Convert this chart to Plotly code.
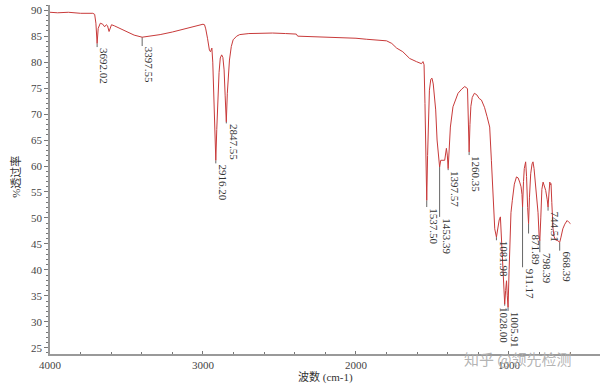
import plotly.graph_objects as go

# ---- spectrum data (wavenumber cm-1, transmittance %) ----
wavenumber = [
    4000, 3950, 3880, 3800, 3720, 3708, 3700, 3692.02, 3685, 3671, 3655, 3643, 3632, 3624,
    3614, 3605, 3598, 3580, 3540, 3500, 3450, 3397.55, 3340, 3280, 3200, 3120, 3060, 3000,
    2990, 2982, 2970, 2958, 2951, 2942, 2936, 2930, 2922, 2916.20, 2910, 2903, 2895, 2887,
    2878, 2870, 2862, 2855, 2847.55, 2841, 2835, 2827, 2815, 2803, 2780, 2760, 2700, 2600,
    2545, 2460, 2390, 2381, 2300, 2200, 2106, 2000, 1930, 1850, 1800, 1766, 1734, 1694,
    1670, 1649, 1605, 1585, 1572, 1562, 1555, 1549, 1544, 1537.50, 1532, 1527, 1520, 1511,
    1503, 1495, 1487, 1479, 1470, 1461, 1453.39, 1446, 1435, 1420, 1409, 1403, 1397.57,
    1390, 1383, 1366, 1333, 1309, 1289, 1271, 1266, 1260.35, 1255, 1249, 1240, 1226, 1210,
    1195, 1180, 1160, 1143, 1126, 1115, 1105, 1093, 1081.98, 1072, 1064, 1056, 1048, 1040,
    1034, 1028.00, 1022, 1016, 1011, 1005.91, 999, 994, 987, 978, 965, 951, 940, 930, 921,
    915, 911.17, 905, 900, 891, 885, 878, 871.89, 866, 858, 849, 843, 836, 828, 821, 810,
    803, 798.39, 792, 785, 777, 770, 760, 750, 744.51, 738, 733, 729, 725, 720, 716, 712,
    706, 697, 680, 668.39, 660, 648, 635, 620, 610, 598,
]
transmittance = [
    89.6, 89.5, 89.6, 89.4, 89.4, 89.2, 87.5, 83.6, 86.5, 87.5, 87.3, 86.8, 87.2, 87.0,
    85.9, 86.6, 87.2, 87.0, 86.4, 85.8, 85.2, 84.8, 85.0, 85.3, 85.8, 86.4, 86.9, 87.3,
    87.2, 86.4, 84.5, 82.3, 82.0, 82.7, 80.0, 74.0, 66.0, 61.1, 67.0, 73.0, 78.0, 80.8,
    81.4, 80.9, 78.5, 73.5, 68.5, 74.0, 78.0, 80.4, 83.0, 84.3, 85.0, 85.3, 85.5, 85.6,
    85.6, 85.5, 85.4, 85.0, 84.9, 84.9, 84.8, 84.6, 84.4, 84.2, 84.1, 83.6, 82.7, 82.0,
    81.4, 80.7, 80.1, 79.8, 79.7, 80.1, 79.5, 72.0, 62.0, 53.4, 62.0, 70.0, 74.6, 76.7,
    76.9, 75.8, 73.0, 70.8, 65.0, 61.1, 59.8, 61.1, 61.1, 61.1, 63.4, 62.1, 59.5,
    64.0, 67.5, 71.4, 74.0, 74.8, 75.3, 74.9, 70.0, 62.7, 68.0, 71.5, 73.2, 74.0, 73.7,
    73.0, 72.7, 71.3, 69.5, 67.5, 61.1, 54.0, 47.9, 46.3, 48.5, 49.6, 50.2, 46.0, 40.0,
    36.5, 33.4, 36.0, 37.9, 35.0, 32.8, 40.0, 47.0, 51.0, 53.4, 56.5, 57.9, 57.7, 56.9, 56.0,
    54.5, 52.1, 57.0, 59.5, 60.8, 58.0, 52.0, 48.9, 54.0, 58.5, 60.4, 60.8, 59.5, 57.0, 55.3, 51.0,
    46.5, 45.6, 50.0, 55.5, 56.9, 56.2, 55.3, 53.5, 52.1, 55.0, 56.9, 56.4, 56.6, 53.0, 50.0, 48.0,
    46.5, 45.8, 45.6, 45.3, 46.3, 47.9, 48.8, 49.5, 49.2, 48.9,
]

# ---- peak annotations ----
peak_wn = [3692.02, 3397.55, 2916.20, 2847.55, 1537.50, 1453.39, 1397.57, 1260.35,
           1081.98, 1028.00, 1005.91, 911.17, 871.89, 798.39, 744.51, 668.39]
peak_t = [83.6, 84.8, 61.1, 68.5, 53.4, 59.8, 59.5, 62.7,
          46.3, 33.4, 32.8, 52.1, 48.9, 45.6, 52.1, 45.3]
peak_labels = ["3692.02", "3397.55", "2916.20", "2847.55", "1537.50", "1453.39", "1397.57",
               "1260.35", "1081.98", "1028.00", "1005.91", "911.17", "871.89", "798.39",
               "744.51", "668.39"]

x_ticks = [4000, 3000, 2000, 1000]
y_ticks = [25, 30, 35, 40, 45, 50, 55, 60, 65, 70, 75, 80, 85, 90]

# layout-only: where each label's text starts (transmittance units) and pixel nudges
label_top = [82.9, 83.1, 60.5, 68.2, 52.1, 50.2, 59.2, 62.1,
             45.7, 33.1, 32.1, 40.5, 47.0, 43.4, 51.4, 43.7]
label_dx = [0, 0, 0, 0, 0, 0, 0, 0, 0, -7, 0, 0, 0, 0, 0, 0]

SERIF = "Liberation Serif, Noto Sans CJK SC, serif"

fig = go.Figure()

# leader lines
lx, ly = [], []
for w, t0, t1 in zip(peak_wn, peak_t, label_top):
    lx += [w, w, None]
    ly += [t0, t1, None]
fig.add_trace(go.Scatter(x=lx, y=ly, mode="lines",
                         line=dict(color="#666666", width=1), hoverinfo="skip"))

fig.add_trace(go.Scatter(x=wavenumber, y=transmittance, mode="lines",
                         line=dict(color="#c83a3a", width=1)))

for w, t1, lab, dx in zip(peak_wn, label_top, peak_labels, label_dx):
    fig.add_annotation(x=w, y=t1, xref="x", yref="y", text=lab, showarrow=False,
                       textangle=90, xanchor="left", yanchor="top", borderpad=0, xshift=dx,
                       font=dict(family=SERIF, size=11, color="#333333"))

# axis titles
fig.add_annotation(x=0.5, y=-0.066, xref="paper", yref="paper", text="波数 (cm-1)",
                   showarrow=False, xanchor="center", yanchor="middle",
                   font=dict(family=SERIF, size=11, color="#333333"))
fig.add_annotation(x=-0.064, y=0.507, xref="paper", yref="paper", text="%透过率",
                   showarrow=False, textangle=-90, xanchor="center", yanchor="middle",
                   font=dict(family=SERIF, size=11, color="#333333"))
# watermark
fig.add_annotation(x=0.851, y=-0.014, xref="paper", yref="paper", text="知乎 @领先检测",
                   showarrow=False, xanchor="center", yanchor="middle",
                   font=dict(family="Noto Sans CJK SC", size=15, color="rgba(175,175,175,0.95)"))

fig.update_layout(
    width=600, height=384,
    margin=dict(l=50, r=0, t=5, b=30),
    plot_bgcolor="white", paper_bgcolor="white",
    showlegend=False,
    xaxis=dict(range=[4000, 405], tickvals=x_ticks, ticks="inside", ticklen=3,
               tickcolor="#777777", showline=True, linecolor="#999999", linewidth=1.5,
               showgrid=False, zeroline=False,
               minor=dict(dtick=200, ticks="inside", ticklen=2, tickcolor="#777777"),
               tickfont=dict(family=SERIF, size=11, color="#444444")),
    yaxis=dict(range=[23.8, 91], tickvals=y_ticks, ticks="outside", ticklen=4,
               tickcolor="#777777", showline=True, linecolor="#999999", linewidth=1.5,
               showgrid=False, zeroline=False,
               minor=dict(dtick=1, tick0=0, ticks="outside", ticklen=2, tickcolor="#777777"),
               tickfont=dict(family=SERIF, size=11, color="#444444")),
)

fig.write_html("out.html")
